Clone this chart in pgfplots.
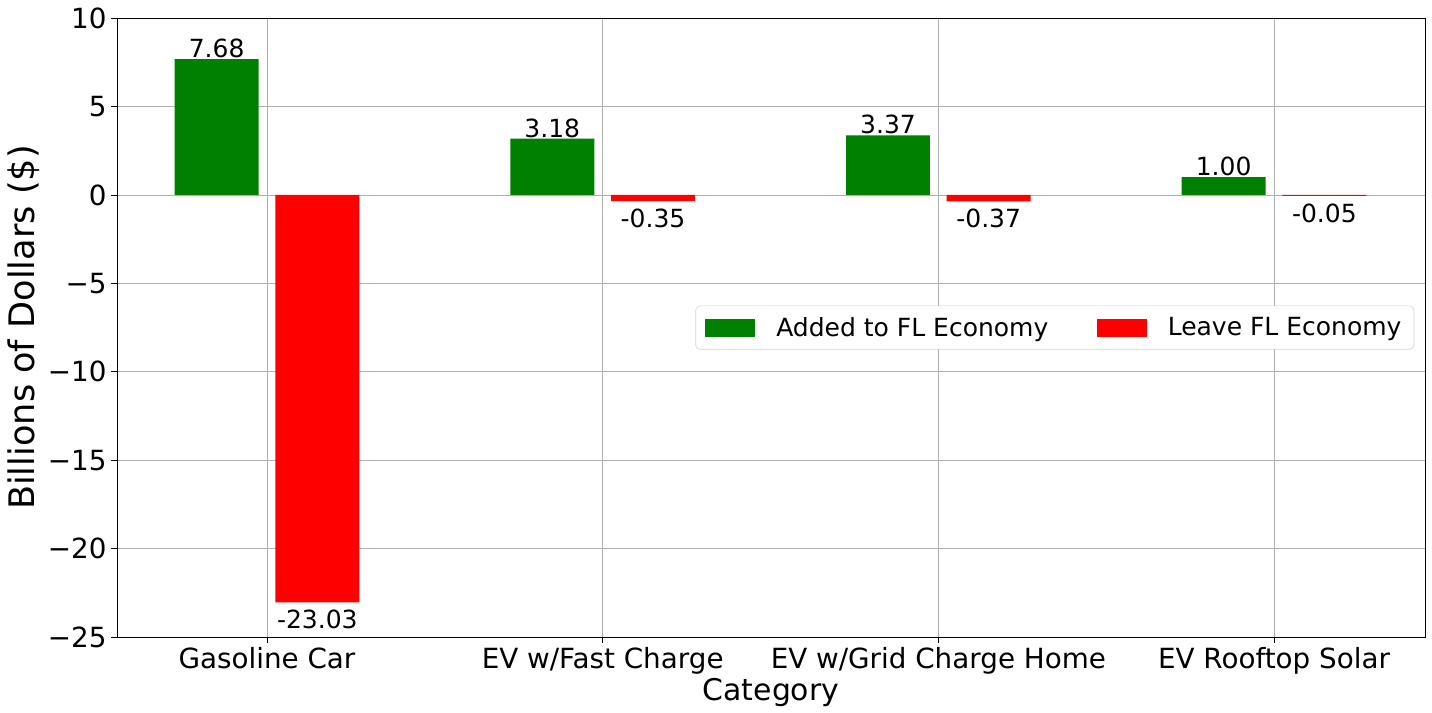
\documentclass[border=0pt]{standalone}
\usepackage{pgfplots}
\pgfplotsset{compat=1.18}
\usepackage{fontspec}
\setmainfont{DejaVu Sans}
\definecolor{mgreen}{RGB}{0,128,0}
\definecolor{mred}{RGB}{255,0,0}
\definecolor{gridgray}{RGB}{176,176,176}
\begin{document}
\begin{tikzpicture}
\begin{axis}[
  at={(0,0)}, anchor=south west,
  scale only axis,
  width=941.8pt, height=445.7pt,
  xmin=-0.447, xmax=3.45,
  ymin=-25, ymax=10,
  xtick={0,1,2,3},
  xticklabels={Gasoline Car,EV w/Fast Charge,EV w/Grid Charge Home,EV Rooftop Solar},
  ytick={-25,-20,-15,-10,-5,0,5,10},
  yticklabels={\mbox{−25},\mbox{−20},\mbox{−15},\mbox{−10},\mbox{−5},0,5,10},
  tick label style={font=\fontsize{20}{24}\selectfont},
  xlabel={Category},
  ylabel={Billions of Dollars (\$)},
  xlabel style={font=\fontsize{21.5}{25}\selectfont, yshift=4pt},
  ylabel style={font=\fontsize{25.3}{29}\selectfont, yshift=-1pt},
  grid=major,
  major grid style={gridgray, line width=0.6pt},
  axis line style={black, line width=0.6pt},
  tick style={black, line width=0.6pt},
  major tick length=4pt,
  tick align=outside,
  xtick pos=bottom, ytick pos=left,
  ybar,
  bar width=0.25,
  /pgf/number format/assume math mode=true,
  nodes near coords={\pgfmathprintnumber[fixed,fixed zerofill,precision=2]{\pgfplotspointmeta}},
  every node near coord/.append style={font=\fontsize{18}{21}\selectfont, black, inner sep=0.5pt},
  legend style={at={(0.717,0.5)}, anchor=center, draw=gray!35, rounded corners=3pt,
    font=\fontsize{18}{21}\selectfont, column sep=13pt, inner xsep=7pt, inner ysep=6pt,
    /tikz/every even column/.append style={column sep=33pt}},
  legend columns=2,
  legend image code/.code={\fill[#1, sharp corners] (0pt,-6.5pt) rectangle (36pt,6.5pt);},
]
\addplot[draw=none, fill=mgreen, bar shift=-0.15] coordinates {(0,7.68) (1,3.18) (2,3.37) (3,1.00)};
\addplot[draw=none, fill=mred, bar shift=0.15,
  every node near coord/.append style={yshift=-5pt}] coordinates {(0,-23.03) (1,-0.35) (2,-0.37) (3,-0.05)};
\legend{Added to FL Economy, Leave FL Economy}
\end{axis}
\pgfresetboundingbox
\path (-84.2pt,-54pt) rectangle (946.8pt,458.7pt);
\end{tikzpicture}
\end{document}
